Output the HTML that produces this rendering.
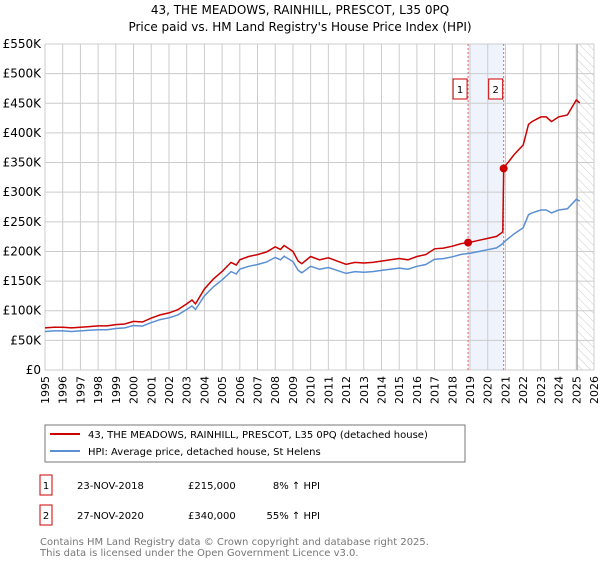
<!DOCTYPE html>
<html><head><meta charset="utf-8"><style>
body{margin:0;background:#fff;font-family:"DejaVu Sans","Liberation Sans",sans-serif;}
svg text{font-family:"DejaVu Sans","Liberation Sans",sans-serif;}
</style></head><body>
<svg id="c" width="600" height="560" viewBox="0 0 600 560" xmlns="http://www.w3.org/2000/svg">
<defs><pattern id="hatch" width="6" height="6" patternUnits="userSpaceOnUse" patternTransform="rotate(-45)"><line x1="0" y1="0" x2="0" y2="6" stroke="#ccc" stroke-width="1"/></pattern></defs>
<text x="300" y="14" text-anchor="middle" font-size="12">43, THE MEADOWS, RAINHILL, PRESCOT, L35 0PQ</text>
<text x="300" y="31" text-anchor="middle" font-size="12">Price paid vs. HM Land Registry's House Price Index (HPI)</text>
<g id="grid"></g><g id="marks"></g><g id="axes"></g>
<rect x="45" y="425" width="420" height="37" fill="#fff" stroke="#777"/>
<line x1="50" y1="434" x2="80" y2="434" stroke="#cc0000" stroke-width="2"/>
<text x="88" y="438" font-size="10">43, THE MEADOWS, RAINHILL, PRESCOT, L35 0PQ (detached house)</text>
<line x1="50" y1="451" x2="80" y2="451" stroke="#5b8fd4" stroke-width="2"/>
<text x="88" y="455" font-size="10">HPI: Average price, detached house, St Helens</text>
<g font-size="10">
<rect x="40" y="475" width="12" height="20" fill="#fff" stroke="#cc0000"/><text x="46" y="489" text-anchor="middle">1</text>
<text x="77" y="489">23-NOV-2018</text><text x="188" y="489">£215,000</text><text x="320" y="489" text-anchor="end">8% ↑ HPI</text></g>
<g font-size="10">
<rect x="40" y="505" width="12" height="20" fill="#fff" stroke="#cc0000"/><text x="46" y="519" text-anchor="middle">2</text>
<text x="77" y="519">27-NOV-2020</text><text x="188" y="519">£340,000</text><text x="320" y="519" text-anchor="end">55% ↑ HPI</text></g>
<text x="40" y="545" font-size="10" fill="#777">Contains HM Land Registry data © Crown copyright and database right 2025.</text>
<text x="40" y="556" font-size="10" fill="#777">This data is licensed under the Open Government Licence v3.0.</text>
</svg>
<script>
const hpiYears=[1995,1995.5,1996,1996.5,1997,1997.5,1998,1998.5,1999,1999.5,2000,2000.5,2001,2001.5,2002,2002.5,2003,2003.3,2003.5,2004,2004.5,2005,2005.5,2005.8,2006,2006.5,2007,2007.5,2008,2008.3,2008.5,2009,2009.3,2009.5,2010,2010.5,2011,2011.5,2012,2012.5,2013,2013.5,2014,2014.5,2015,2015.5,2016,2016.5,2017,2017.5,2018,2018.5,2019,2019.5,2020,2020.5,2020.8,2021,2021.5,2022,2022.3,2022.5,2023,2023.3,2023.6,2024,2024.5,2025,2025.2];
const hpiValues=[65,66,66,65,66,67,68,68,70,71,75,74,80,85,88,93,102,108,102,125,140,152,166,162,170,175,178,182,190,186,192,183,168,164,175,170,173,168,163,166,165,166,168,170,172,170,175,178,187,188,191,195,197,200,203,206,212,218,230,240,262,265,270,270,265,270,272,288,285];
const saleYears=[2018.89,2020.9];
const salePrices=[215,340];
const yTicks=[0,50,100,150,200,250,300,350,400,450,500,550];
const yTickLabels=["£0","£50K","£100K","£150K","£200K","£250K","£300K","£350K","£400K","£450K","£500K","£550K"];
const xTicks=[1995,1996,1997,1998,1999,2000,2001,2002,2003,2004,2005,2006,2007,2008,2009,2010,2011,2012,2013,2014,2015,2016,2017,2018,2019,2020,2021,2022,2023,2024,2025,2026];
const X0=45,X1=594,Y0=370,Y1=44;
const xs=y=>X0+(y-1995)/(2026-1995)*(X1-X0);
const ys=v=>Y0-v/550*(Y0-Y1);
const NS="http://www.w3.org/2000/svg";
function mk(p,t,a){const e=document.createElementNS(NS,t);for(const k in a)e.setAttribute(k,a[k]);p.appendChild(e);return e;}
const grid=document.getElementById('grid'),marks=document.getElementById('marks'),axes=document.getElementById('axes');
function hpiAt(t){for(let i=1;i<hpiYears.length;i++){if(t<=hpiYears[i]){const f=(t-hpiYears[i-1])/(hpiYears[i]-hpiYears[i-1]);return hpiValues[i-1]+f*(hpiValues[i]-hpiValues[i-1]);}}return hpiValues[hpiValues.length-1];}
let r=mk(grid,'rect',{x:xs(saleYears[0]),y:Y1,width:xs(saleYears[1])-xs(saleYears[0]),height:Y0-Y1,fill:'#eef3fc'});


r=mk(grid,'rect',{x:xs(2025.05),y:Y1,width:X1-xs(2025.05),height:Y0-Y1,fill:'url(#hatch)'});


yTicks.forEach((v,i)=>{const l=mk(grid,'line',{x1:X0,x2:X1,y1:ys(v),y2:ys(v),stroke:'#ccc'});


const t=mk(axes,'text',{x:X0-4,y:ys(v)+4,'text-anchor':'end','font-size':'12'});t.textContent=yTickLabels[i];

});
xTicks.forEach(y=>{const l=mk(grid,'line',{x1:xs(y),x2:xs(y),y1:Y1,y2:Y0,stroke:'#ccc'});


const t=mk(axes,'text',{x:xs(y)+4,y:Y0+6,'text-anchor':'end','font-size':'11',transform:`rotate(-90 ${xs(y)+4} ${Y0+6})`});t.textContent=y;

});
let vl=mk(grid,'line',{x1:xs(2025.05),x2:xs(2025.05),y1:Y1,y2:Y0,stroke:'#999'});


saleYears.forEach((s,i)=>{const l=mk(grid,'line',{x1:xs(s),x2:xs(s),y1:Y1,y2:Y0,stroke:'#e06666','stroke-dasharray':'2,2'});


const b=mk(axes,'rect',{x:xs(s)-15,y:79,width:14,height:20,fill:'#fff',stroke:'#cc0000'});


const t=mk(axes,'text',{x:xs(s)-8,y:93,'text-anchor':'middle','font-size':'10'});t.textContent=i+1;

});
let d=hpiYears.map((y,i)=>(i?'L':'M')+xs(y).toFixed(1)+','+ys(hpiValues[i]).toFixed(1)).join('');
let p=mk(marks,'path',{d:d,fill:'none',stroke:'#5b8fd4','stroke-width':'1.5'});


const r0=salePrices[0]/hpiAt(saleYears[0]),r1=salePrices[1]/hpiAt(saleYears[1]);
let pts=[];
hpiYears.forEach((y,i)=>{if(y<saleYears[1])pts.push([y,hpiValues[i]*r0]);});
pts.push([saleYears[1]-0.05,hpiAt(saleYears[1]-0.05)*r0]);
pts.push([saleYears[1],salePrices[1]]);
hpiYears.forEach((y,i)=>{if(y>saleYears[1])pts.push([y,hpiValues[i]*r1]);});
d=pts.map((q,i)=>(i?'L':'M')+xs(q[0]).toFixed(1)+','+ys(q[1]).toFixed(1)).join('');
p=mk(marks,'path',{d:d,fill:'none',stroke:'#cc0000','stroke-width':'1.5'});


saleYears.forEach((s,i)=>{const c=mk(marks,'circle',{cx:xs(s),cy:ys(salePrices[i]),r:4,fill:'#cc0000'});

});
</script>
</body></html>
